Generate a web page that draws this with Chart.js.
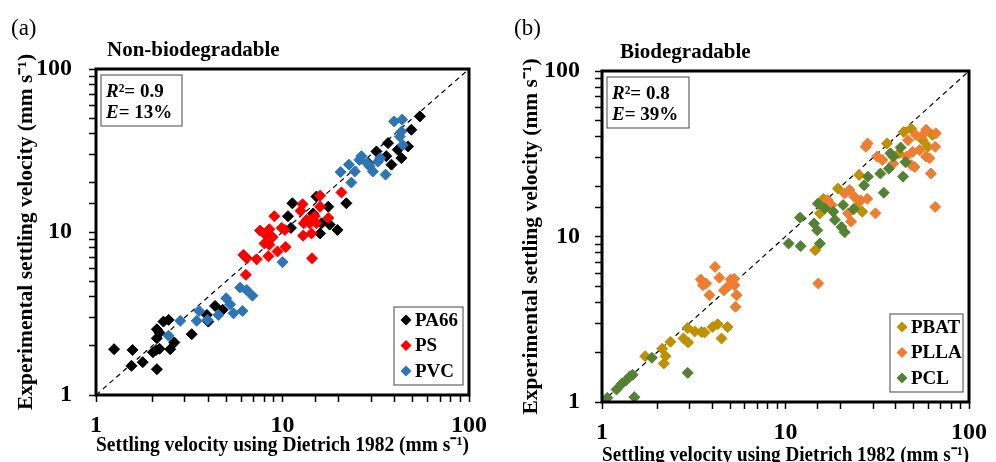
<!DOCTYPE html>
<html>
<head>
<meta charset="utf-8">
<script src="https://cdn.jsdelivr.net/npm/chart.js@4"></script>
<style>
  html, body { margin: 0; padding: 0; background: #fff; }
  #wrap { position: relative; width: 996px; height: 462px; overflow: hidden; }
  .panel { position: absolute; top: 0; }
</style>
</head>
<body>
<div id="wrap">
  <div class="panel" style="left:0"><canvas id="chart-a" width="500" height="462"></canvas></div>
  <div class="panel" style="left:500px"><canvas id="chart-b" width="496" height="470"></canvas></div>
</div>
<script>
// [x = Dietrich 1982 estimate, y = measured], mm/s
const pa66 = [
  [1.25,1.91],[1.57,1.89],[1.55,1.51],[1.78,1.59],[2.12,1.44],[2.02,1.83],[2.1,1.89],[2.19,1.92],
  [2.12,2.23],[2.12,2.53],[2.19,2.41],[2.3,2.82],[2.45,2.89],[2.63,2.1],[2.5,1.91],[3.26,2.36],
  [3.93,3.1],[4.35,3.52],[4.78,3.33],[4.0,2.82],
  [11.3,15.0],[10.7,12.5],[11.1,10.6],[15.2,16.5],[15.9,9.8],[17.6,14.3],[17.9,11.1],[19.7,10.3],
  [22.0,15.0],[16.2,11.3],[14.6,13.0],
  [54.5,51.2],[49.1,42.4],[47.1,33.5],[43.4,28.4],[38.4,25.9],[36.8,35.1],[36.0,29.2],[31.9,31.2],
  [28.8,26.5],[41.5,32.0]
];
const ps = [
  [6.17,7.24],[6.43,6.9],[6.36,5.46],[7.27,6.8],[7.58,10.2],[8.0,8.5],[8.2,9.5],[8.5,10.4],
  [8.5,8.35],[8.85,9.3],[8.4,7.1],[9.04,12.5],[9.4,7.6],[9.9,10.6],[10.4,8.1],[10.3,10.3],
  [12.5,13.5],[12.8,14.8],[12.9,9.5],[14.4,6.9],[14.3,9.8],[13.5,11.9],[14.9,12.5],[15.9,16.7],
  [17.6,12.2],[20.7,17.5],[14.0,11.3],[15.2,11.3],[15.9,14.3],[13.0,11.3]
];
const pvc = [
  [2.45,2.31],[2.83,2.85],[3.47,2.85],[3.57,3.28],[3.96,2.89],[4.53,3.1],[4.99,3.92],[5.24,3.6],
  [5.46,3.17],[5.93,4.56],[6.1,3.28],[6.43,4.4],[6.9,4.07],[10.0,6.53],
  [20.5,23.3],[22.7,25.9],[23.4,20.1],[24.4,23.5],[25.8,27.7],[26.5,29.2],[28.4,26.5],[30.5,23.5],
  [32.5,27.0],[33.4,28.4],[35.7,22.5],[39.7,47.7],[43.8,48.9],[43.4,41.3],[42.5,38.5],[44.2,34.2],
  [29.3,25.3]
];
const pbat = [
  [1.72,1.89],[2.13,2.1],[2.17,1.71],[2.22,1.89],[2.36,2.31],[2.78,2.42],[2.93,2.8],[2.95,2.29],
  [3.2,2.67],[3.48,2.65],[3.62,2.63],[4.01,2.84],[4.27,2.95],[4.48,2.42],[4.83,2.84],
  [14.5,8.27],[15.4,13.8],[16.1,16.9],[19.3,19.5],[25.2,23.5],[26.2,14.1],[35.7,36.5],[44.1,42.8],
  [48.4,44.8],[56.0,38.2],[63.3,41.1],[59.7,34.8],[41.5,31.8],[24.2,15.1]
];
const plla = [
  [3.45,5.5],[3.55,5.08],[3.85,4.42],[4.13,6.55],[4.36,5.64],[4.62,4.73],[5.02,5.5],[5.27,5.08],
  [5.41,4.42],[5.34,3.76],[4.83,4.97],[5.25,5.55],[3.7,5.2],
  [15.1,5.2],[17.0,16.6],[17.8,15.5],[21.0,18.2],[22.3,19.1],[23.7,17.4],[21.9,13.8],[22.8,12.3],
  [25.7,16.5],[27.9,16.9],[30.9,13.8],[27.4,34.8],[28.0,36.5],[33.7,29.0],[31.6,30.4],[38.7,27.6],
  [45.6,30.4],[48.4,27.0],[50.5,26.3],[49.3,32.5],[51.4,41.0],[56.0,41.0],[58.4,44.2],[53.8,33.3],
  [58.4,30.4],[60.9,29.7],[62.0,24.0],[66.0,42.0],[65.4,34.8],[65.4,15.1],[46.5,38.2]
];
const pcl = [
  [1.07,1.06],[1.2,1.19],[1.28,1.29],[1.35,1.35],[1.42,1.43],[1.47,1.46],[1.5,1.07],[1.87,1.85],
  [2.93,1.5],[10.4,9.07],[12.0,13.0],[12.1,8.75],[15.0,15.8],[14.3,12.0],[14.9,10.9],[15.4,9.07],
  [16.4,14.8],[18.2,14.1],[18.6,12.6],[20.6,15.5],[20.2,11.4],[21.0,10.6],[23.5,14.6],[26.8,20.4],
  [28.1,23.0],[32.9,24.0],[34.3,18.4],[36.6,25.7],[37.3,31.8],[38.7,30.4],[42.4,34.5],[43.7,23.0],
  [45.1,28.1]
];
const oneToOne = [[1, 1], [100, 100]];
const majorTicks = [1, 10, 100];

const serif = '"Liberation Serif", "Times New Roman", serif';
const axisTitle = 'Settling velocity using Dietrich 1982 (mm s\u207B\u00B9)';
const yTitle = 'Experimental settling velocity (mm s\u207B\u00B9)';

function pts(arr) {
  return arr.map(p => ({ x: p[0], y: p[1] }));
}

function series(label, arr, color, order) {
  return {
    label: label,
    data: pts(arr),
    backgroundColor: color,
    borderColor: color,
    pointStyle: 'rectRot',
    pointRadius: 5.5,
    pointBorderWidth: 1,
    order: order,
  };
}

const diagonal = {
  label: '1:1',
  type: 'line',
  data: pts(oneToOne),
  borderColor: '#000',
  borderWidth: 1.2,
  borderDash: [5, 4],
  pointRadius: 2,
  pointBackgroundColor: '#fff',
  pointBorderColor: '#999',
  order: 10,
};

// box, stats text, legend and headings
const decorations = {
  id: 'decorations',
  afterDatasetsDraw(chart, args, opts) {
    const ctx = chart.ctx;
    const area = chart.chartArea;
    ctx.save();

    ctx.strokeStyle = '#000';
    ctx.lineWidth = 3;
    ctx.strokeRect(area.left, area.top, area.right - area.left, area.bottom - area.top);

    // stats box
    const sx = area.left + 5, sy = area.top + 6;
    ctx.lineWidth = 1;
    ctx.strokeStyle = '#444';
    ctx.strokeRect(sx, sy, opts.statsW, 51);
    ctx.fillStyle = '#000';
    ctx.textBaseline = 'alphabetic';
    ctx.textAlign = 'left';
    const lines = [['R', '\u00B2= ' + opts.r2], ['E', '= ' + opts.e]];
    lines.forEach((ln, i) => {
      const by = sy + 22 + i * 21;
      ctx.font = 'italic bold 19px ' + serif;
      ctx.fillText(ln[0], sx + 5, by);
      const w = ctx.measureText(ln[0]).width;
      ctx.font = 'bold 19px ' + serif;
      ctx.fillText(ln[1], sx + 5 + w, by);
    });

    // legend
    const items = chart.data.datasets.filter(d => d.type !== 'line');
    const lw = opts.legendW, lh = 78;
    const lx = area.right - 6 - lw, ly = area.bottom - 10 - lh;
    ctx.strokeStyle = '#444';
    ctx.strokeRect(lx, ly, lw, lh);
    ctx.font = 'bold 19px ' + serif;
    ctx.textBaseline = 'middle';
    items.forEach((d, i) => {
      const cy = ly + 13 + i * 25.5;
      const cx = lx + 12;
      ctx.fillStyle = d.backgroundColor;
      ctx.beginPath();
      ctx.moveTo(cx - 5.5, cy);
      ctx.lineTo(cx, cy - 5.5);
      ctx.lineTo(cx + 5.5, cy);
      ctx.lineTo(cx, cy + 5.5);
      ctx.closePath();
      ctx.fill();
      ctx.fillStyle = '#000';
      ctx.fillText(d.label, cx + 9, cy + 1);
    });

    // headings
    ctx.textBaseline = 'alphabetic';
    ctx.font = 'bold 21px ' + serif;
    ctx.fillText(opts.heading, area.left + opts.headingDx, opts.headingY);
    ctx.font = '23px ' + serif;
    ctx.fillText(opts.letter, opts.letterX, 35);
    ctx.restore();
  }
};

function makeChart(id, datasets, lay) {
  const canvas = document.getElementById(id);
  const tickStyle = {
    drawOnChartArea: false,
    drawTicks: true,
    tickLength: 7,
    tickColor: '#000',
    tickWidth: 1.5,
  };
  return new Chart(canvas, {
    type: 'scatter',
    data: { datasets: [...datasets, diagonal] },
    plugins: [decorations],
    options: {
      responsive: false,
      animation: false,
      events: [],
      layout: { padding: { left: 0, top: lay.top, right: lay.right, bottom: 0 } },
      plugins: {
        legend: { display: false },
        tooltip: { enabled: false },
        decorations: lay.deco,
      },
      scales: {
        x: {
          type: 'logarithmic',
          min: 1,
          max: 100,
          grid: tickStyle,
          border: { display: false },
          afterFit: s => { s.height = lay.xHeight; },
          ticks: {
            autoSkip: false,
            maxRotation: 0,
            padding: lay.xPad,
            color: '#000',
            font: { family: serif, size: 24, weight: 'bold' },
            callback: v => majorTicks.includes(v) ? String(v) : '',
          },
          title: {
            display: true,
            text: axisTitle,
            color: '#000',
            padding: { top: 0, bottom: lay.xTitlePad },
            font: { family: serif, size: 21.5, weight: 'bold' },
          },
        },
        y: {
          type: 'logarithmic',
          min: 1,
          max: 100,
          grid: tickStyle,
          border: { display: false },
          afterFit: s => { s.width = lay.yWidth; },
          ticks: {
            autoSkip: false,
            padding: lay.yPad,
            color: '#000',
            font: { family: serif, size: 24, weight: 'bold' },
            callback: v => majorTicks.includes(v) ? String(v) : '',
          },
          title: {
            display: true,
            text: yTitle,
            color: '#000',
            padding: { top: lay.yTitlePad, bottom: 0 },
            font: { family: serif, size: 21.5, weight: 'bold' },
          },
        },
      },
    },
  });
}

makeChart('chart-a', [
  series('PA66', pa66, '#000000', 3),
  series('PS', ps, '#ff0000', 2),
  series('PVC', pvc, '#2e75b6', 1),
], {
  top: 69, right: 31, xHeight: 67, yWidth: 96, xPad: 9, yPad: 17,
  xTitlePad: 4, yTitlePad: 14,
  deco: { r2: '0.9', e: '13%', legendW: 69, statsW: 81, heading: 'Non-biodegradable', headingDx: 11, headingY: 56, letter: '(a)', letterX: 11 },
});

makeChart('chart-b', [
  series('PBAT', pbat, '#bf9000', 3),
  series('PLLA', plla, '#ed7d31', 2),
  series('PCL', pcl, '#548235', 1),
], {
  top: 71, right: 19, xHeight: 68, yWidth: 102, xPad: 9, yPad: 15,
  xTitlePad: 2, yTitlePad: 19,
  deco: { r2: '0.8', e: '39%', legendW: 73, statsW: 82, heading: 'Biodegradable', headingDx: 18, headingY: 58, letter: '(b)', letterX: 14 },
});
</script>
</body>
</html>
